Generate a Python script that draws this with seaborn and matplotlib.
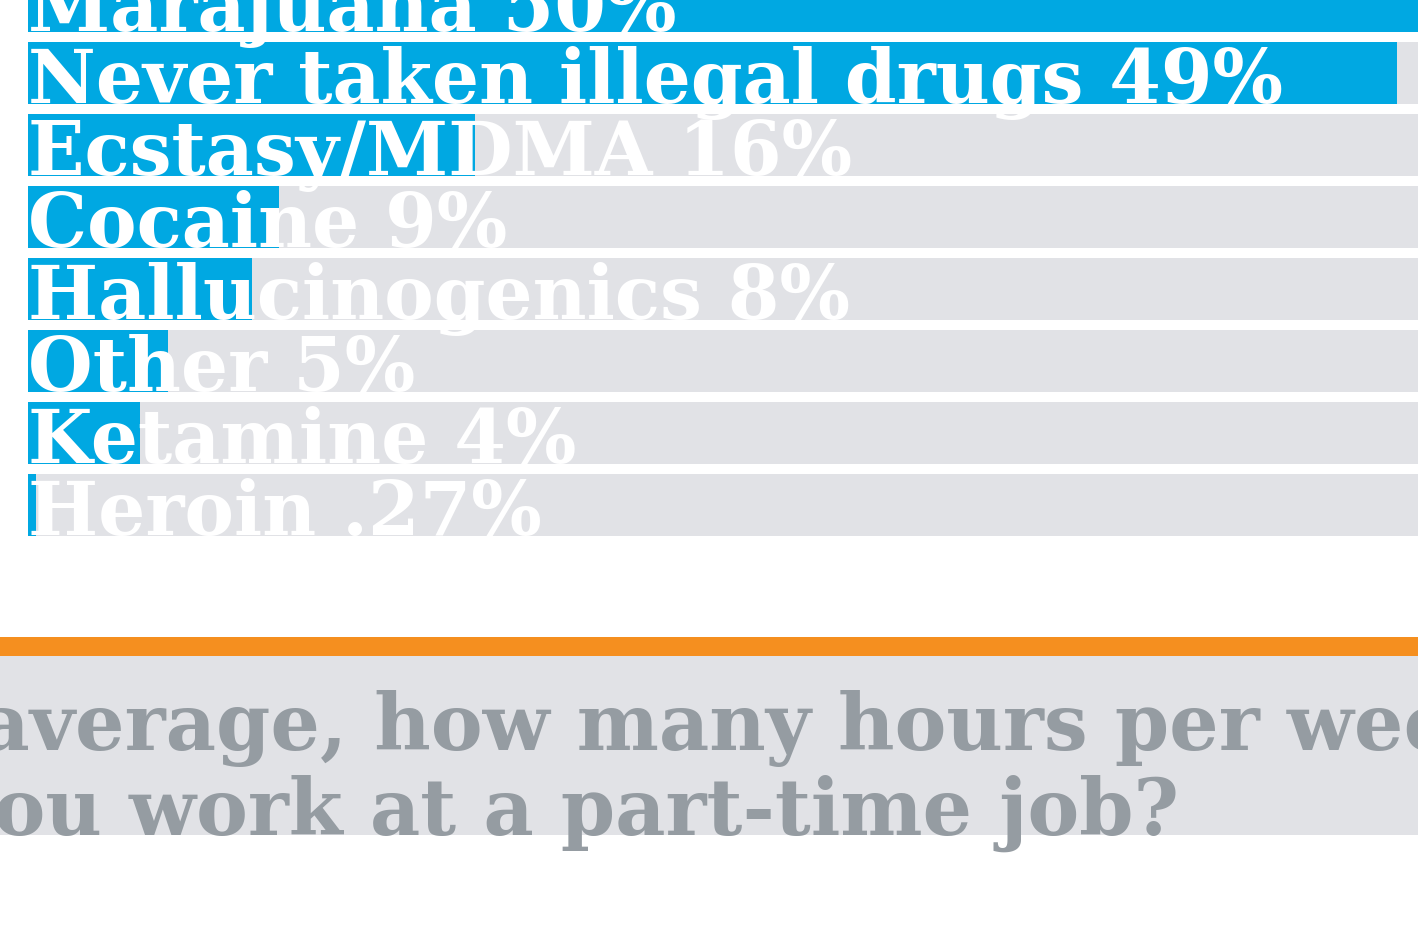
import matplotlib
matplotlib.use("Agg")
import matplotlib.pyplot as plt
from matplotlib.patches import Rectangle
import pandas as pd
import seaborn as sns

drugs = ["Marajuana", "Never taken illegal drugs", "Ecstasy/MDMA", "Cocaine",
         "Hallucinogenics", "Other", "Ketamine", "Heroin"]
shares = [50, 49, 16, 9, 8, 5, 4, 0.27]
share_labels = ["50%", "49%", "16%", "9%", "8%", "5%", "4%", ".27%"]
question = ["On average, how many hours per week", "do you work at a part-time job?"]

BLUE = "#00a8e2"
TRACK = "#e1e2e6"
ORANGE = "#f58f1f"
GREY_TEXT = "#959ca2"
FONT = "DejaVu Serif"

W, H = 1418, 939
fig = plt.figure(figsize=(W / 100, H / 100), dpi=100)

# bar panel: 28px from left, 100% would be ~2794px wide, rows 72px apart
top_px, bottom_px = -35, 541
ax = fig.add_axes([28 / W, 1 - bottom_px / H, 2794 / W, (bottom_px - top_px) / H])

df = pd.DataFrame({"drug": drugs, "share": shares, "full": [100] * len(drugs)})
bar_h = 62 / 72
sns.barplot(data=df, x="full", y="drug", color=TRACK, width=bar_h,
            saturation=1, orient="h", ax=ax)
sns.barplot(data=df, x="share", y="drug", color=BLUE, width=bar_h,
            saturation=1, orient="h", ax=ax)

for i, (name, lab) in enumerate(zip(drugs, share_labels)):
    ax.text(0, i + bar_h / 2 - 1 / 72, f"{name} {lab}", ha="left", va="baseline",
            color="white", fontsize=53.5, fontweight="bold", family=FONT)

ax.set_xlim(0, 100)
ax.set_ylim(len(drugs) - 0.5, -0.5)
ax.axis("off")

# orange rule and grey question band
fig.add_artist(Rectangle((0, 1 - 656 / H), 1, 19 / H, transform=fig.transFigure,
                         color=ORANGE, lw=0))
fig.add_artist(Rectangle((0, 1 - 835 / H), 1, 179 / H, transform=fig.transFigure,
                         color=TRACK, lw=0))
# question starts off the left edge, as in the cropped original
fig.text(-172 / W, 1 - 750 / H, question[0], ha="left", va="baseline",
         color=GREY_TEXT, fontsize=56, fontweight="bold", family=FONT)
fig.text(-185 / W, 1 - 835 / H, question[1], ha="left", va="baseline",
         color=GREY_TEXT, fontsize=56, fontweight="bold", family=FONT)

fig.savefig("out.png", dpi=100, facecolor="white")
